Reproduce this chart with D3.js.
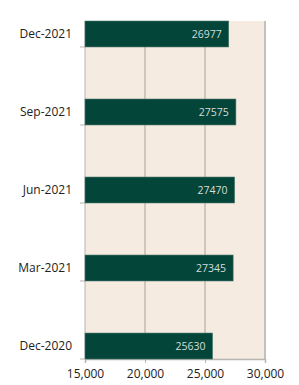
<!DOCTYPE html>
<html>
<head>
<meta charset="utf-8">
<script src="https://cdn.jsdelivr.net/npm/d3@7"></script>
<style>
  body { margin: 0; background: #fff; }
  text { font-family: "Open Sans", sans-serif; }
</style>
</head>
<body>
<div id="chart"></div>
<script>
// data
var periods = ["Dec-2021", "Sep-2021", "Jun-2021", "Mar-2021", "Dec-2020"];
var values = [26977, 27575, 27470, 27345, 25630];
var xTicks = [15000, 20000, 25000, 30000];

var W = 299, H = 385;
var margin = { top: 21, right: 34, bottom: 26, left: 85 },
    width = W - margin.left - margin.right,
    height = H - margin.top - margin.bottom;

var svg = d3.select("#chart")
    .append("svg")
    .attr("width", W)
    .attr("height", H)
    .append("g")
    .attr("transform", "translate(" + margin.left + "," + margin.top + ")");

var x = d3.scaleLinear()
    .domain([15000, 30000])
    .range([0, width]);

var y = d3.scaleBand()
    .domain(periods)
    .range([0, height])
    .paddingInner(0.667)
    .paddingOuter(0);

// plot background
svg.append("rect")
    .attr("x", 0).attr("y", 0)
    .attr("width", width).attr("height", height)
    .attr("fill", "#f5ebe1");

// grid lines
svg.selectAll(".grid")
    .data(xTicks.slice(1, -1))
    .enter().append("line")
    .attr("x1", d => x(d)).attr("x2", d => x(d))
    .attr("y1", 0).attr("y2", height)
    .attr("stroke", "#a8a29c")
    .attr("stroke-width", 1);

// right border
svg.append("line")
    .attr("x1", x(30000)).attr("x2", x(30000))
    .attr("y1", 0).attr("y2", height)
    .attr("stroke", "#c4c0bc")
    .attr("stroke-width", 2);

// bottom axis
var xAxis = svg.append("g")
    .attr("transform", "translate(0," + height + ")")
    .call(d3.axisBottom(x).tickValues(xTicks).tickFormat(d3.format(",")).tickSize(4).tickPadding(6));
xAxis.select(".domain").attr("stroke", "#b8b4b0").attr("stroke-width", 1.5);
xAxis.selectAll(".tick line").attr("stroke", "#b8b4b0");
xAxis.selectAll("text").attr("fill", "#222").style("font-size", "12px").style("font-family", "'Open Sans', sans-serif");

// left axis line
svg.append("line")
    .attr("x1", 0).attr("x2", 0)
    .attr("y1", 0).attr("y2", height)
    .attr("stroke", "#b8b4b0");

// left ticks at bar bottoms
svg.selectAll(".ytick")
    .data(periods)
    .enter().append("line")
    .attr("x1", -5).attr("x2", 0)
    .attr("y1", d => y(d) + y.bandwidth())
    .attr("y2", d => y(d) + y.bandwidth())
    .attr("stroke", "#b8b4b0");

// category labels
svg.selectAll(".ylab")
    .data(periods)
    .enter().append("text")
    .attr("x", -13)
    .attr("y", d => y(d) + y.bandwidth() / 2)
    .attr("dy", "0.35em")
    .attr("text-anchor", "end")
    .attr("fill", "#222")
    .style("font-size", "12px")
    .text(d => d);

// bars
svg.selectAll(".bar")
    .data(periods)
    .enter().append("rect")
    .attr("x", 0)
    .attr("y", d => y(d))
    .attr("width", (d, i) => x(values[i]) - x(15000))
    .attr("height", y.bandwidth())
    .attr("fill", "#04453a")
    .attr("stroke", "#4f7a70")
    .attr("stroke-width", 0.6);

// value labels
svg.selectAll(".val")
    .data(periods)
    .enter().append("text")
    .attr("x", (d, i) => x(values[i]) - 7)
    .attr("y", d => y(d) + y.bandwidth() / 2)
    .attr("dy", "0.35em")
    .attr("text-anchor", "end")
    .attr("fill", "#d4ddd9")
    .style("font-size", "10.5px")
    .text((d, i) => values[i]);
</script>
</body>
</html>
